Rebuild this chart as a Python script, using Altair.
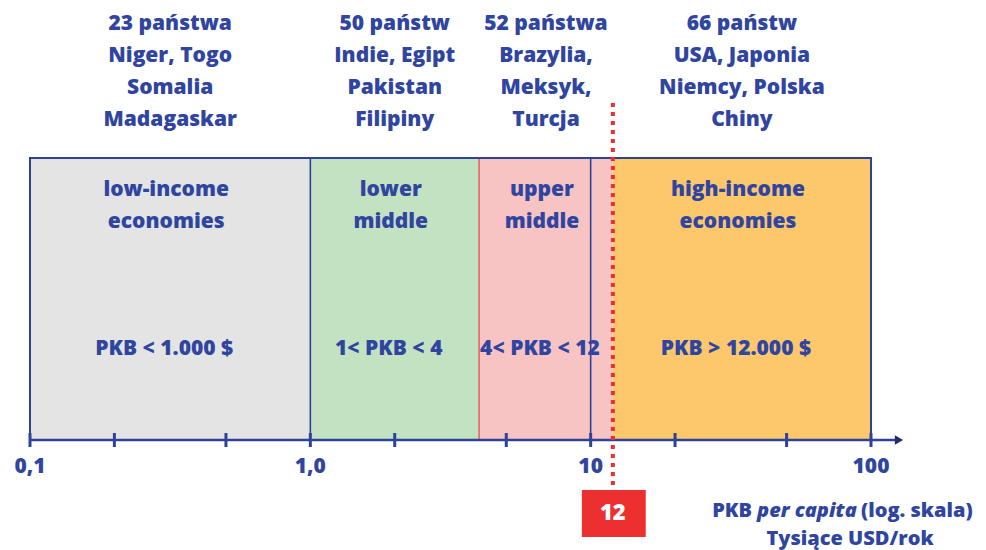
import altair as alt
import pandas as pd

# --- data ---
band_lo = [0.1, 1.0, 4.0, 12.0]
band_hi = [1.0, 4.0, 12.0, 100.0]
band_fill = ["#E4E4E4", "#C3E2C2", "#F8C3C3", "#FDC76C"]
band_names = ["low-income\neconomies", "lower\nmiddle", "upper\nmiddle", "high-income\neconomies"]
band_rule = ["PKB < 1.000 $", "1< PKB < 4", "4< PKB < 12", "PKB > 12.000 $"]
band_countries = [
    "23 państwa\nNiger, Togo\nSomalia\nMadagaskar",
    "50 państw\nIndie, Egipt\nPakistan\nFilipiny",
    "52 państwa\nBrazylia,\nMeksyk,\nTurcja",
    "66 państw\nUSA, Japonia\nNiemcy, Polska\nChiny",
]
tick_values = [0.1, 0.2, 0.5, 1, 2, 5, 10, 20, 50, 100]
label_values = [0.1, 1, 10, 100]
label_texts = ["0,1", "1,0", "10", "100"]
threshold = 12
divider_values = [1, 10]

BLUE = "#2F45A0"
LINE = "#2F4396"
RED = "#EC2F2F"
FONT = "Open Sans"
FS = 21
FW = 800

bands = pd.DataFrame({
    "lo": band_lo, "hi": band_hi, "fill": band_fill,
    "name": band_names, "rule": band_rule, "countries": band_countries,
})
bands["mid"] = (bands["lo"] * bands["hi"]) ** 0.5
bands["name"] = bands["name"].str.split("\n")
bands["countries"] = bands["countries"].str.split("\n")

ticks = pd.DataFrame({"v": tick_values})
labels = pd.DataFrame({"v": label_values, "t": label_texts})
dividers = pd.DataFrame({"v": divider_values})
thr = pd.DataFrame({"v": [threshold], "lo": [threshold / 1.29], "hi": [threshold * 1.31],
                    "t": [str(threshold)]})
frame = pd.DataFrame({"lo": [band_lo[0]], "hi": [band_hi[-1]]})

xs = alt.Scale(type="log", domain=[0.1, 100], range=[22, 863])
X = lambda f: alt.X(f, scale=xs, axis=None)

TOP, BOT = 150, 432

base = alt.Chart(bands)

rects = base.mark_rect().encode(
    x=X("lo:Q"), x2="hi:Q", y=alt.value(TOP), y2=alt.value(BOT),
    color=alt.Color("fill:N", scale=None),
)
pink_edge = alt.Chart(pd.DataFrame({"v": [band_lo[2], band_hi[-1]]})).mark_rule(
    color="#E06060", strokeWidth=1.5).encode(x=X("v:Q"), y=alt.value(TOP), y2=alt.value(BOT))

div_rules = alt.Chart(dividers).mark_rule(color=LINE, strokeWidth=1.6).encode(
    x=X("v:Q"), y=alt.value(TOP), y2=alt.value(BOT))

frame_rect = alt.Chart(frame).mark_rect(fill=None, stroke=LINE, strokeWidth=2, fillOpacity=0).encode(
    x=X("lo:Q"), x2="hi:Q", y=alt.value(TOP), y2=alt.value(BOT))

axis_line = alt.Chart(frame).mark_rule(color=LINE, strokeWidth=2.5).encode(
    x=X("lo:Q"), x2=alt.value(888), y=alt.value(BOT))
arrow = alt.Chart(frame).mark_point(shape="triangle-right", filled=True, color="#1F2F6E",
                                    size=90, opacity=1).encode(
    x=alt.value(891), y=alt.value(BOT))

tick_rules = alt.Chart(ticks).mark_rule(color=LINE, strokeWidth=3).encode(
    x=X("v:Q"), y=alt.value(BOT - 7), y2=alt.value(BOT + 7))

tick_labels = alt.Chart(labels).mark_text(font=FONT, fontWeight=FW, fontSize=FS,
                                          color=BLUE, baseline="middle").encode(
    x=X("v:Q"), y=alt.value(459), text="t:N")

txt = dict(font=FONT, fontWeight=FW, fontSize=FS, color=BLUE, align="center")
countries = base.mark_text(baseline="middle", lineHeight=32, dx=0, **txt).encode(
    x=X("mid:Q"), y=alt.value(16), text="countries")
names = base.mark_text(baseline="middle", lineHeight=32, dx=-4, **txt).encode(
    x=X("mid:Q"), y=alt.value(182), text="name")
rules_txt = base.mark_text(baseline="middle", dx=-6, **txt).encode(
    x=X("mid:Q"), y=alt.value(341), text="rule:N")

thr_line = alt.Chart(thr).mark_rule(color=RED, strokeWidth=4, strokeDash=[4, 5]).encode(
    x=X("v:Q"), y=alt.value(95), y2=alt.value(482))
thr_box = alt.Chart(thr).mark_rect(color=RED).encode(
    x=X("lo:Q"), x2="hi:Q", y=alt.value(482), y2=alt.value(529))
thr_txt = alt.Chart(thr).mark_text(font=FONT, fontWeight=FW, fontSize=22, color="white",
                                   baseline="middle").encode(
    x=X("v:Q"), y=alt.value(505), text="t:N")

cap = pd.DataFrame({"a": ["PKB"], "b": ["per capita"], "c": ["(log. skala)"], "d": ["Tysiące USD/rok"]})
capc = alt.Chart(cap)
CFS = 20
cap_a = capc.mark_text(font=FONT, fontWeight=FW, fontSize=CFS, color=BLUE, align="right",
                       baseline="middle").encode(x=alt.value(744), y=alt.value(503), text="a:N")
cap_b = capc.mark_text(font=FONT, fontWeight=FW, fontStyle="italic", fontSize=CFS, color=BLUE,
                       align="left", baseline="middle").encode(x=alt.value(749), y=alt.value(503), text="b:N")
cap_c = capc.mark_text(font=FONT, fontWeight=FW, fontSize=CFS, color=BLUE, align="left",
                       baseline="middle").encode(x=alt.value(853), y=alt.value(503), text="c:N")
cap_d = capc.mark_text(font=FONT, fontWeight=FW, fontSize=CFS, color=BLUE, align="center",
                       baseline="middle").encode(x=alt.value(842), y=alt.value(531), text="d:N")

chart = alt.layer(
    rects, pink_edge, div_rules, frame_rect, axis_line, arrow, tick_rules, tick_labels,
    countries, names, rules_txt, thr_line, thr_box, thr_txt, cap_a, cap_b, cap_c, cap_d,
).properties(
    width=970, height=542, padding=0, autosize=alt.AutoSizeParams(type="none"),
).configure_view(stroke=None)

chart.save("out.html", embed_options={"renderer": "svg", "actions": False})
